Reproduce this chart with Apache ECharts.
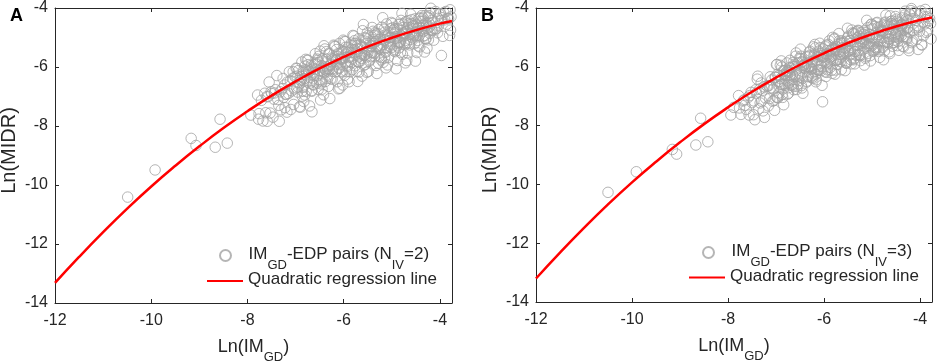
<!DOCTYPE html>
<html>
<head>
<meta charset="utf-8">
<script src="https://cdn.jsdelivr.net/npm/echarts@6/dist/echarts.min.js"></script>
<style>html,body{margin:0;padding:0;background:#fff}#c{width:941px;height:362px}</style>
</head>
<body>
<div id="c"></div>
<script>
// ---------- data ----------
var panelLabels = ['A', 'B'];
var xTicks = [-12, -10, -8, -6, -4];
var yTicks = [-14, -12, -10, -8, -6, -4];
var xRange = [-12, -3.75];
var yRange = [-14, -4];
var legendPairsA = 'IM_GD-EDP pairs (N_IV=2)';
var legendPairsB = 'IM_GD-EDP pairs (N_IV=3)';
var legendLine = 'Quadratic regression line';

var lineXA = [-12, -11.5, -11, -10.5, -10, -9.5, -9, -8.5, -8, -7.5, -7, -6.5, -6, -5.5, -5, -4.5, -4, -3.75];
var lineYA = [-13.32, -12.44, -11.60, -10.80, -10.05, -9.35, -8.69, -8.07, -7.50, -6.97, -6.49, -6.05, -5.66, -5.31, -5.01, -4.75, -4.53, -4.44];
var lineXB = [-12, -11.5, -11, -10.5, -10, -9.5, -9, -8.5, -8, -7.5, -7, -6.5, -6, -5.5, -5, -4.5, -4, -3.75];
var lineYB = [-13.20, -12.32, -11.48, -10.68, -9.93, -9.23, -8.57, -7.95, -7.38, -6.85, -6.37, -5.93, -5.54, -5.19, -4.89, -4.63, -4.41, -4.32];

var pointsA = [
[-10.49,-10.41],[-9.92,-9.49],[-9.17,-8.42],[-9.07,-8.66],[-8.67,-8.72],[-8.57,-7.77],[-8.42,-8.58],[-7.93,-7.63],
[-7.79,-6.95],[-7.76,-7.58],[-7.71,-7.13],[-7.68,-7.83],[-7.64,-6.89],[-7.62,-7.55],[-7.77,-7.77],[-7.6,-7.01],
[-7.42,-6.77],[-7.45,-7.09],[-7.47,-7.70],[-7.5,-6.90],[-7.53,-7.56],[-7.55,-6.51],[-7.57,-7.00],[-7.59,-7.84],[-7.44,-6.88],[-7.51,-6.84],
[-7.39,-6.29],[-7.37,-7.10],[-7.35,-7.30],[-7.32,-6.84],[-7.3,-7.45],[-7.28,-6.74],[-7.26,-6.39],[-7.25,-7.03],[-7.23,-6.61],[-7.21,-6.93],[-7.34,-7.84],[-7.22,-7.38],
[-7.01,-6.34],[-7.02,-6.74],[-7.04,-7.27],[-7.06,-6.38],[-7.08,-6.81],[-7.1,-7.44],[-7.11,-6.47],[-7.13,-6.16],[-7.15,-6.90],[-7.17,-6.51],[-7.18,-7.53],[-7.19,-6.92],[-7.05,-6.16],
[-6.99,-6.04],[-6.98,-6.70],[-6.96,-6.85],[-6.94,-6.12],[-6.92,-7.35],[-6.91,-6.57],[-6.89,-6.45],[-6.87,-5.83],[-6.86,-6.99],[-6.84,-6.13],[-6.83,-7.17],[-6.82,-6.39],[-6.81,-5.97],[-6.97,-6.31],[-6.9,-7.36],[-6.85,-6.69],
[-6.61,-5.92],[-6.62,-6.29],[-6.64,-6.59],[-6.65,-6.17],[-6.67,-6.80],[-6.68,-5.95],[-6.7,-6.36],[-6.71,-7.32],[-6.73,-6.17],[-6.74,-5.77],[-6.76,-6.45],[-6.77,-6.17],[-6.78,-6.82],[-6.79,-5.74],[-6.63,-6.61],[-6.72,-6.15],[-6.66,-7.52],
[-6.59,-5.55],[-6.58,-6.07],[-6.56,-6.55],[-6.55,-5.73],[-6.53,-6.76],[-6.52,-5.85],[-6.5,-6.46],[-6.49,-5.46],[-6.48,-7.12],[-6.46,-5.95],[-6.45,-6.75],[-6.44,-5.72],[-6.43,-6.14],[-6.42,-6.94],[-6.41,-5.28],[-6.57,-5.91],[-6.51,-6.11],[-6.47,-6.57],
[-6.21,-5.26],[-6.22,-6.05],[-6.24,-6.15],[-6.25,-5.70],[-6.27,-6.40],[-6.28,-5.95],[-6.3,-6.08],[-6.31,-5.56],[-6.32,-6.66],[-6.34,-6.05],[-6.35,-6.39],[-6.36,-5.48],[-6.37,-6.10],[-6.38,-6.49],[-6.39,-5.39],[-6.23,-5.73],[-6.29,-7.07],[-6.33,-6.14],
[-6.19,-5.29],[-6.18,-5.70],[-6.16,-6.16],[-6.15,-5.41],[-6.13,-6.50],[-6.12,-5.64],[-6.1,-6.05],[-6.09,-5.20],[-6.08,-6.72],[-6.06,-5.74],[-6.05,-6.14],[-6.04,-5.50],[-6.03,-5.73],[-6.02,-6.61],[-6.01,-5.09],[-6.17,-5.76],[-6.11,-6.74],[-6.07,-5.92],
[-5.81,-4.93],[-5.82,-5.70],[-5.84,-5.85],[-5.85,-5.51],[-5.87,-6.16],[-5.88,-5.63],[-5.9,-5.68],[-5.91,-5.33],[-5.92,-6.41],[-5.94,-5.52],[-5.95,-6.15],[-5.96,-5.14],[-5.97,-5.86],[-5.98,-6.28],[-5.99,-5.13],[-5.83,-5.40],[-5.89,-6.50],[-5.93,-5.99],
[-5.79,-4.95],[-5.78,-5.41],[-5.76,-5.96],[-5.75,-5.19],[-5.73,-6.15],[-5.72,-5.28],[-5.7,-5.81],[-5.69,-5.04],[-5.68,-6.17],[-5.66,-5.55],[-5.65,-5.79],[-5.64,-5.28],[-5.63,-5.56],[-5.62,-6.31],[-5.61,-4.77],[-5.77,-5.21],[-5.71,-6.49],[-5.67,-5.62],
[-5.41,-4.66],[-5.42,-5.52],[-5.44,-5.63],[-5.45,-5.20],[-5.47,-5.80],[-5.48,-5.41],[-5.5,-5.52],[-5.51,-4.84],[-5.52,-6.18],[-5.54,-5.21],[-5.55,-5.91],[-5.56,-5.00],[-5.57,-5.61],[-5.58,-5.94],[-5.59,-4.56],[-5.43,-5.29],[-5.49,-6.15],[-5.53,-5.66],
[-5.39,-4.79],[-5.38,-5.21],[-5.36,-5.65],[-5.35,-4.84],[-5.33,-5.95],[-5.32,-5.12],[-5.3,-5.31],[-5.29,-4.87],[-5.28,-5.87],[-5.26,-5.35],[-5.25,-5.63],[-5.24,-5.06],[-5.23,-5.26],[-5.22,-5.76],[-5.21,-4.65],[-5.37,-4.93],[-5.31,-6.22],[-5.27,-5.38],
[-5.01,-4.49],[-5.02,-5.23],[-5.04,-5.30],[-5.05,-5.00],[-5.07,-5.67],[-5.08,-4.92],[-5.1,-5.35],[-5.11,-4.54],[-5.12,-6.03],[-5.14,-5.08],[-5.15,-5.69],[-5.16,-4.72],[-5.17,-5.09],[-5.18,-5.84],[-5.19,-4.33],[-5.03,-5.00],[-5.09,-5.93],[-5.13,-5.50],
[-4.99,-4.53],[-4.98,-4.90],[-4.96,-5.45],[-4.95,-4.72],[-4.93,-5.48],[-4.92,-4.97],[-4.9,-5.02],[-4.89,-4.70],[-4.88,-5.78],[-4.86,-5.16],[-4.85,-5.35],[-4.84,-4.56],[-4.83,-5.17],[-4.82,-5.50],[-4.81,-4.42],[-4.97,-4.75],[-4.91,-6.06],[-4.87,-5.21],
[-4.61,-4.21],[-4.62,-5.07],[-4.64,-5.19],[-4.65,-4.54],[-4.67,-5.52],[-4.68,-4.66],[-4.7,-5.19],[-4.71,-4.46],[-4.72,-5.86],[-4.74,-4.84],[-4.75,-5.19],[-4.76,-4.66],[-4.77,-4.85],[-4.78,-5.57],[-4.79,-4.18],[-4.63,-4.89],[-4.69,-5.78],[-4.73,-5.25],
[-4.59,-4.40],[-4.58,-4.81],[-4.56,-5.01],[-4.55,-4.60],[-4.53,-5.21],[-4.52,-4.83],[-4.5,-4.94],[-4.49,-4.56],[-4.48,-5.51],[-4.46,-4.69],[-4.45,-5.29],[-4.44,-4.35],[-4.43,-4.93],[-4.42,-5.32],[-4.41,-4.34],[-4.57,-4.61],[-4.51,-5.80],[-4.47,-4.93],
[-4.21,-4.16],[-4.22,-4.64],[-4.24,-5.08],[-4.25,-4.31],[-4.27,-5.36],[-4.28,-4.59],[-4.3,-5.03],[-4.31,-4.26],[-4.32,-5.49],[-4.34,-4.79],[-4.35,-4.95],[-4.36,-4.45],[-4.37,-4.68],[-4.38,-4.26],[-4.23,-4.52],[-4.29,-5.05],
[-4.19,-4.01],[-4.18,-4.72],[-4.16,-4.76],[-4.15,-4.50],[-4.13,-5.09],[-4.12,-4.69],[-4.1,-4.72],[-4.09,-4.12],[-4.07,-4.70],[-4.05,-4.84],[-4.04,-4.35],[-4.03,-4.60],[-4.02,-4.20],[-4.17,-4.42],
[-3.99,-4.20],[-3.98,-4.43],[-3.97,-5.61],[-3.96,-4.33],[-3.94,-4.96],[-3.92,-4.16],[-3.9,-4.40],[-3.88,-4.12],[-3.86,-4.55],[-3.84,-4.35],[-3.82,-4.36],[-3.8,-4.93],[-3.79,-4.06],[-3.78,-4.75],[-3.77,-4.30],
[-6.97,-6.05],[-6.93,-6.52],[-6.9,-6.32],[-6.86,-6.81],[-6.83,-6.18],[-6.95,-6.67],[-6.88,-6.42],[-6.81,-6.95],
[-6.78,-6.27],[-6.74,-5.92],[-6.71,-6.55],[-6.68,-6.10],[-6.63,-6.40],[-6.76,-5.77],[-6.66,-6.82],[-6.61,-6.20],
[-6.58,-5.85],[-6.55,-6.30],[-6.52,-5.64],[-6.49,-6.13],[-6.46,-6.50],[-6.43,-6.00],[-6.41,-6.20],[-6.54,-5.77],
[-6.39,-6.09],[-6.36,-5.74],[-6.33,-6.27],[-6.3,-5.53],[-6.27,-5.91],[-6.24,-6.41],[-6.22,-5.79],[-6.35,-5.99],
[-6.18,-5.31],[-6.15,-5.79],[-6.12,-5.55],[-6.09,-6.03],[-6.06,-5.69],[-6.03,-6.17],[-6.01,-5.48],[-6.14,-5.90],
[-5.99,-5.69],[-5.96,-5.33],[-5.93,-5.94],[-5.9,-5.49],[-5.87,-5.81],[-5.84,-5.19],[-5.82,-6.09],[-5.95,-5.57],
[-5.78,-5.11],[-5.75,-5.59],[-5.72,-5.39],[-5.69,-5.84],[-5.66,-5.24],[-5.63,-5.71],[-5.61,-5.32],[-5.74,-5.49],
[-5.58,-5.61],[-5.55,-5.13],[-5.52,-5.39],[-5.49,-4.93],[-5.46,-5.76],[-5.43,-5.29],[-5.41,-5.51],[-5.54,-5.04],
[-5.39,-5.06],[-5.36,-5.53],[-5.33,-4.88],[-5.3,-5.28],[-5.27,-4.73],[-5.24,-5.40],[-5.22,-5.68],[-5.35,-5.14],
[-5.18,-5.24],[-5.15,-4.82],[-5.12,-5.46],[-5.09,-4.98],[-5.06,-5.11],[-5.03,-4.70],[-5.01,-5.34],[-5.14,-4.92],
[-4.98,-4.67],[-4.95,-5.03],[-4.92,-4.83],[-4.89,-5.28],[-4.86,-4.55],[-4.83,-5.15],[-4.81,-4.93],[-4.94,-5.40],
[-4.78,-4.97],[-4.75,-4.55],[-4.72,-5.10],[-4.69,-4.79],[-4.66,-4.43],[-4.63,-5.25],[-4.61,-4.67],[-4.74,-4.88],
[-4.58,-4.53],[-4.55,-4.95],[-4.52,-4.37],[-4.49,-4.80],[-4.46,-5.10],[-4.43,-4.65],[-4.41,-4.45],[-4.54,-4.90],
[-4.38,-4.76],[-4.35,-4.34],[-4.32,-4.94],[-4.29,-4.51],[-4.26,-4.68],[-4.23,-4.26],[-4.21,-4.86],[-4.34,-4.58]
];

var pointsB = [
[-10.50,-10.27],[-9.91,-9.57],[-9.16,-8.81],[-9.07,-8.97],[-8.67,-8.66],[-8.57,-7.75],[-8.42,-8.55],[-6.03,-7.19],
[-7.94,-7.64],[-7.88,-7.38],[-7.67,-7.13],
[-7.78,-6.98],[-7.62,-7.45],[-7.73,-7.62],[-7.68,-7.16],[-7.76,-7.4],[-7.65,-7.31],
[-7.42,-6.78],[-7.58,-7.04],[-7.47,-7.63],[-7.52,-6.87],[-7.44,-7.80],[-7.55,-6.98],[-7.5,-7.22],[-7.41,-6.89],[-7.56,-7.64],[-7.46,-7.16],
[-7.38,-6.32],[-7.22,-7.06],[-7.33,-7.23],[-7.28,-6.80],[-7.36,-7.43],[-7.25,-6.68],[-7.3,-7.17],[-7.39,-6.42],[-7.24,-7.72],[-7.34,-6.76],[-7.27,-7.50],[-7.31,-6.55],
[-7.02,-6.35],[-7.18,-6.67],[-7.07,-7.17],[-7.12,-6.34],[-7.04,-7.14],[-7.15,-6.64],[-7.1,-6.71],[-7.01,-6.36],[-7.16,-7.33],[-7.06,-6.76],[-7.13,-7.08],[-7.09,-6.45],[-7.19,-6.64],[-7.03,-7.48],
[-6.98,-5.92],[-6.82,-6.57],[-6.93,-6.67],[-6.88,-6.01],[-6.96,-7.06],[-6.85,-6.14],[-6.9,-6.61],[-6.99,-5.93],[-6.84,-7.29],[-6.94,-6.30],[-6.87,-6.94],[-6.91,-5.95],[-6.81,-6.63],[-6.97,-7.04],[-6.89,-5.80],[-6.83,-6.26],[-6.95,-6.51],[-6.86,-7.04],
[-6.62,-5.92],[-6.78,-6.17],[-6.67,-6.44],[-6.72,-6.03],[-6.64,-6.66],[-6.75,-6.14],[-6.7,-6.28],[-6.61,-5.99],[-6.76,-6.93],[-6.66,-6.26],[-6.73,-6.54],[-6.69,-6.04],[-6.79,-6.29],[-6.63,-6.78],[-6.71,-5.78],[-6.77,-5.87],[-6.65,-6.60],[-6.74,-6.71],
[-6.58,-5.53],[-6.42,-5.95],[-6.53,-6.47],[-6.48,-5.64],[-6.56,-6.67],[-6.45,-5.82],[-6.5,-6.35],[-6.59,-5.64],[-6.44,-6.90],[-6.54,-5.87],[-6.47,-6.64],[-6.51,-5.71],[-6.41,-6.04],[-6.57,-6.77],[-6.49,-5.40],[-6.43,-5.97],[-6.55,-6.28],[-6.46,-6.72],
[-6.22,-5.32],[-6.38,-5.99],[-6.27,-6.09],[-6.32,-5.66],[-6.24,-6.36],[-6.35,-5.90],[-6.3,-6.01],[-6.21,-5.62],[-6.36,-6.52],[-6.26,-5.98],[-6.33,-6.32],[-6.29,-5.47],[-6.39,-6.04],[-6.23,-6.40],[-6.31,-5.51],[-6.37,-5.66],[-6.25,-6.30],[-6.34,-6.34],
[-6.18,-5.36],[-6.02,-5.61],[-6.13,-6.11],[-6.08,-5.35],[-6.16,-6.44],[-6.05,-5.56],[-6.1,-5.99],[-6.19,-5.24],[-6.04,-6.63],[-6.14,-5.66],[-6.07,-6.08],[-6.11,-5.47],[-6.01,-5.67],[-6.17,-6.51],[-6.09,-5.20],[-6.03,-5.68],[-6.15,-5.92],[-6.06,-6.13],
[-5.82,-5.00],[-5.98,-5.65],[-5.87,-5.82],[-5.92,-5.45],[-5.84,-6.12],[-5.95,-5.56],[-5.9,-5.63],[-5.81,-5.37],[-5.96,-6.33],[-5.86,-5.44],[-5.93,-6.10],[-5.89,-5.12],[-5.99,-5.80],[-5.83,-6.22],[-5.91,-5.24],[-5.97,-5.32],[-5.85,-5.73],[-5.94,-6.19],
[-5.78,-5.03],[-5.62,-5.35],[-5.73,-5.91],[-5.68,-5.12],[-5.76,-6.11],[-5.65,-5.19],[-5.7,-5.75],[-5.79,-5.06],[-5.64,-6.10],[-5.74,-5.45],[-5.67,-5.74],[-5.71,-5.24],[-5.61,-5.50],[-5.77,-6.25],[-5.69,-4.87],[-5.63,-5.12],[-5.75,-5.78],[-5.66,-5.82],
[-5.42,-4.75],[-5.58,-5.46],[-5.47,-5.60],[-5.52,-5.13],[-5.44,-5.76],[-5.55,-5.33],[-5.5,-5.46],[-5.41,-4.85],[-5.56,-6.13],[-5.46,-5.11],[-5.53,-5.88],[-5.49,-4.96],[-5.59,-5.55],[-5.43,-5.90],[-5.51,-4.69],[-5.57,-5.19],[-5.45,-5.43],[-5.54,-5.87],
[-5.38,-4.86],[-5.22,-5.15],[-5.33,-5.61],[-5.28,-4.78],[-5.36,-5.90],[-5.25,-5.04],[-5.3,-5.25],[-5.39,-4.88],[-5.24,-5.79],[-5.34,-5.25],[-5.27,-5.60],[-5.31,-5.01],[-5.21,-5.20],[-5.37,-5.72],[-5.29,-4.76],[-5.23,-4.84],[-5.35,-5.48],[-5.26,-5.59],
[-5.02,-4.56],[-5.18,-5.17],[-5.07,-5.27],[-5.12,-4.93],[-5.04,-5.62],[-5.15,-4.84],[-5.1,-5.29],[-5.01,-4.55],[-5.16,-5.94],[-5.06,-4.98],[-5.13,-5.66],[-5.09,-4.67],[-5.19,-5.03],[-5.03,-5.80],[-5.11,-4.42],[-5.17,-4.90],[-5.05,-5.21],[-5.14,-5.71],
[-4.98,-4.59],[-4.82,-4.84],[-4.93,-5.43],[-4.88,-4.66],[-4.96,-5.43],[-4.85,-4.89],[-4.9,-4.97],[-4.99,-4.71],[-4.84,-5.68],[-4.94,-5.05],[-4.87,-5.33],[-4.91,-4.51],[-4.81,-5.12],[-4.97,-5.47],[-4.89,-4.49],[-4.83,-4.64],[-4.95,-5.34],[-4.86,-5.42],
[-4.62,-4.27],[-4.78,-5.01],[-4.67,-5.17],[-4.72,-4.48],[-4.64,-5.49],[-4.75,-4.58],[-4.7,-5.14],[-4.61,-4.46],[-4.76,-5.76],[-4.66,-4.73],[-4.73,-5.18],[-4.69,-4.61],[-4.79,-4.80],[-4.63,-5.55],[-4.71,-4.24],[-4.77,-4.78],[-4.65,-5.06],[-4.74,-5.46],
[-4.58,-4.44],[-4.42,-4.75],[-4.53,-4.99],[-4.48,-4.54],[-4.56,-5.18],[-4.45,-4.75],[-4.5,-4.89],[-4.59,-4.54],[-4.44,-5.44],[-4.54,-4.58],[-4.47,-5.28],[-4.51,-4.29],[-4.41,-4.88],[-4.57,-5.30],[-4.49,-4.38],[-4.43,-4.50],[-4.55,-5.10],[-4.46,-5.14],
[-4.22,-4.19],[-4.38,-4.58],[-4.27,-5.06],[-4.32,-4.24],[-4.24,-5.36],[-4.35,-4.51],[-4.3,-4.98],[-4.21,-4.23],[-4.36,-5.30],[-4.26,-4.69],[-4.33,-4.97],[-4.29,-4.38],[-4.39,-4.64],[-4.23,-5.45],[-4.31,-4.11],[-4.37,-4.55],[-4.25,-4.79],[-4.34,-5.32],
[-4.18,-4.02],[-4.02,-4.65],[-4.13,-4.76],[-4.08,-4.42],[-4.16,-5.12],[-4.05,-4.60],[-4.1,-4.67],[-4.19,-4.09],[-4.04,-5.41],[-4.14,-4.38],[-4.07,-5.06],[-4.11,-4.14],[-4.01,-4.79],[-4.17,-5.18],
[-3.98,-4.10],[-3.8,-4.36],[-3.93,-4.95],[-3.88,-4.19],[-3.96,-5.26],[-3.85,-4.30],[-3.9,-4.54],[-3.99,-4.21],[-3.84,-4.78],[-3.94,-4.48],[-3.87,-4.83],[-3.91,-4.30],[-3.78,-4.53],[-3.97,-5.24],[-3.89,-4.05],[-3.82,-4.43],[-3.77,-5.05],
[-6.83,-6.13],[-6.87,-6.60],[-6.9,-6.40],[-6.94,-6.89],[-6.97,-6.26],[-6.85,-6.75],[-6.92,-6.50],[-6.99,-7.03],
[-6.62,-6.35],[-6.66,-6.00],[-6.69,-6.63],[-6.72,-6.18],[-6.77,-6.48],[-6.64,-5.85],[-6.74,-6.90],[-6.79,-6.28],
[-6.42,-5.93],[-6.45,-6.38],[-6.48,-5.72],[-6.51,-6.21],[-6.54,-6.58],[-6.57,-6.08],[-6.59,-6.28],[-6.46,-5.85],
[-6.21,-6.17],[-6.24,-5.82],[-6.27,-6.35],[-6.3,-5.61],[-6.33,-5.99],[-6.36,-6.49],[-6.38,-5.87],[-6.25,-6.07],
[-6.02,-5.39],[-6.05,-5.87],[-6.08,-5.63],[-6.11,-6.11],[-6.14,-5.77],[-6.17,-6.25],[-6.19,-5.56],[-6.06,-5.98],
[-5.81,-5.77],[-5.84,-5.41],[-5.87,-6.02],[-5.9,-5.57],[-5.93,-5.89],[-5.96,-5.27],[-5.98,-6.17],[-5.85,-5.65],
[-5.62,-5.19],[-5.65,-5.67],[-5.68,-5.47],[-5.71,-5.92],[-5.74,-5.32],[-5.77,-5.79],[-5.79,-5.40],[-5.66,-5.57],
[-5.42,-5.69],[-5.45,-5.21],[-5.48,-5.47],[-5.51,-5.01],[-5.54,-5.84],[-5.57,-5.37],[-5.59,-5.59],[-5.46,-5.12],
[-5.21,-5.14],[-5.24,-5.61],[-5.27,-4.96],[-5.3,-5.36],[-5.33,-4.81],[-5.36,-5.48],[-5.38,-5.76],[-5.25,-5.22],
[-5.02,-5.32],[-5.05,-4.90],[-5.08,-5.54],[-5.11,-5.06],[-5.14,-5.19],[-5.17,-4.78],[-5.19,-5.42],[-5.06,-5.00],
[-4.82,-4.75],[-4.85,-5.11],[-4.88,-4.91],[-4.91,-5.36],[-4.94,-4.63],[-4.97,-5.23],[-4.99,-5.01],[-4.86,-5.48],
[-4.62,-5.05],[-4.65,-4.63],[-4.68,-5.18],[-4.71,-4.87],[-4.74,-4.51],[-4.77,-5.33],[-4.79,-4.75],[-4.66,-4.96],
[-4.42,-4.61],[-4.45,-5.03],[-4.48,-4.45],[-4.51,-4.88],[-4.54,-5.18],[-4.57,-4.73],[-4.59,-4.53],[-4.46,-4.98],
[-4.22,-4.84],[-4.25,-4.42],[-4.28,-5.02],[-4.31,-4.59],[-4.34,-4.76],[-4.37,-4.34],[-4.39,-4.94],[-4.26,-4.66]
];

// ---------- chart ----------
var FONT = 'Liberation Sans, Arial, sans-serif';
var AX = '#262626';
var GRAY = '#a3a3a3';
var RED = '#ff0000';

function zip(xs, ys) { return xs.map(function (x, i) { return [x, ys[i]]; }); }

function richSub(size, subSize) {
  return {
    n: { fontSize: size, fontFamily: FONT, color: AX, lineHeight: 20, verticalAlign: 'top' },
    s: { fontSize: subSize, fontFamily: FONT, color: AX, lineHeight: 12, verticalAlign: 'top', padding: [13, 0, 4, 0] }
  };
}
function toRich(str) {
  var out = '';
  var re = /_([A-Za-z]+)/g, last = 0, m;
  while ((m = re.exec(str)) !== null) {
    if (m.index > last) out += '{n|' + str.slice(last, m.index) + '}';
    out += '{s|' + m[1] + '}';
    last = re.lastIndex;
  }
  if (last < str.length) out += '{n|' + str.slice(last) + '}';
  return out;
}

var grids = [
  { left: 55, top: 8, width: 397, height: 295, containLabel: false, outerBoundsMode: 'none' },
  { left: 536, top: 8, width: 396, height: 294, containLabel: false, outerBoundsMode: 'none' }
];

var xAxes = [], yAxes = [];
[0, 1].forEach(function (g) {
  ['bottom', 'top'].forEach(function (pos) {
    var main = pos === 'bottom';
    xAxes.push({
      type: 'value', gridIndex: g, position: pos, min: xRange[0], max: xRange[1], interval: 2,
      axisLine: { show: true, onZero: false, lineStyle: { color: AX, width: 1 } },
      axisTick: { show: true, inside: true, length: 4, lineStyle: { color: AX } },
      axisLabel: { show: main, interval: 0, color: AX, fontSize: 16, fontFamily: FONT, margin: 10,
        formatter: function (v) { return xTicks.indexOf(v) >= 0 ? String(v) : ''; } },
      splitLine: { show: false },
      name: main ? toRich('Ln(IM_GD)') : '',
      nameLocation: 'middle', nameGap: 35,
      nameTextStyle: { rich: richSub(18, 13) }
    });
  });
  ['left', 'right'].forEach(function (pos) {
    var main = pos === 'left';
    yAxes.push({
      type: 'value', gridIndex: g, position: pos, min: yRange[0], max: yRange[1], interval: 2,
      axisLine: { show: true, onZero: false, lineStyle: { color: AX, width: 1 } },
      axisTick: { show: true, inside: true, length: 4, lineStyle: { color: AX } },
      axisLabel: { show: main, color: AX, fontSize: 16, fontFamily: FONT, margin: 7,
        formatter: function (v) { return yTicks.indexOf(v) >= 0 ? String(v) : ''; } },
      splitLine: { show: false },
      name: main ? 'Ln(MIDR)' : '',
      nameLocation: 'middle', nameGap: 36,
      nameTextStyle: { fontSize: 20, fontFamily: FONT, color: AX, padding: [0, 0, 0, 10] }
    });
  });
});

var scatterStyle = { color: 'rgba(0,0,0,0)', borderColor: GRAY, borderWidth: 1 };

var series = [
  { name: legendPairsA, type: 'scatter', xAxisIndex: 0, yAxisIndex: 0, data: pointsA,
    symbol: 'circle', symbolSize: 10.5, itemStyle: scatterStyle, silent: true, z: 2 },
  { name: legendLine + ' ', type: 'line', xAxisIndex: 0, yAxisIndex: 0, data: zip(lineXA, lineYA),
    smooth: true, showSymbol: false, symbol: 'none', lineStyle: { color: RED, width: 2.5 }, itemStyle: { color: RED }, z: 3 },
  { name: legendPairsB, type: 'scatter', xAxisIndex: 2, yAxisIndex: 2, data: pointsB,
    symbol: 'circle', symbolSize: 10.5, itemStyle: scatterStyle, silent: true, z: 2 },
  { name: legendLine, type: 'line', xAxisIndex: 2, yAxisIndex: 2, data: zip(lineXB, lineYB),
    smooth: true, showSymbol: false, symbol: 'none', lineStyle: { color: RED, width: 2.5 }, itemStyle: { color: RED }, z: 3 }
];

function legendFor(item, left, top) {
  return {
    data: [item], orient: 'vertical', left: left, top: top, itemWidth: 36, itemHeight: 11,
    selectedMode: false, padding: 0,
    textStyle: { rich: richSub(17, 13) },
    formatter: function (n) { return toRich(n.trim()); }
  };
}

var chart = echarts.init(document.getElementById('c'), null, { renderer: 'canvas' });
chart.setOption({
  animation: false,
  backgroundColor: '#ffffff',
  title: [
    { text: panelLabels[0], left: 5, top: 2, textStyle: { fontSize: 18, fontWeight: 'bold', fontFamily: FONT, color: '#000' } },
    { text: panelLabels[1], left: 476, top: 2, textStyle: { fontSize: 18, fontWeight: 'bold', fontFamily: FONT, color: '#000' } }
  ],
  grid: grids,
  xAxis: xAxes,
  yAxis: yAxes,
  legend: [
    legendFor({ name: legendPairsA }, 219, 245.5),
    legendFor({ name: legendLine + ' ', itemStyle: { opacity: 0 } }, 206, 271),
    legendFor({ name: legendPairsB }, 702, 242.5),
    legendFor({ name: legendLine, itemStyle: { opacity: 0 } }, 688, 267.5)
  ],
  series: series
});
</script>
</body>
</html>
